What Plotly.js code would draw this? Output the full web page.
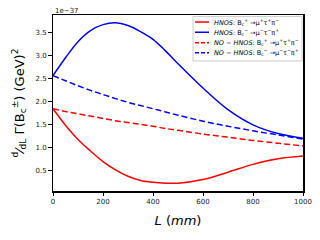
<!DOCTYPE html>
<html><head><meta charset="utf-8">
<script src="https://cdn.plot.ly/plotly-3.0.1.min.js"></script>
<style>html,body{margin:0;padding:0;background:#fff;}#chart{width:320px;height:240px;}</style>
</head><body><div id="chart"></div>
<script>
const L = [0, 50, 100, 150, 200, 250, 300, 350, 400, 450, 500, 600, 700, 800, 900, 1000];
const hnosPlus  = [1.84, 1.48, 1.17, 0.92, 0.69, 0.51, 0.37, 0.28, 0.24, 0.22, 0.22, 0.30, 0.46, 0.63, 0.75, 0.81];
const hnosMinus = [2.56, 2.95, 3.30, 3.54, 3.67, 3.71, 3.65, 3.52, 3.35, 3.10, 2.82, 2.29, 1.82, 1.49, 1.30, 1.20];
const noPlus    = [1.84, 1.78, 1.73, 1.68, 1.63, 1.58, 1.54, 1.50, 1.46, 1.41, 1.37, 1.29, 1.22, 1.15, 1.09, 1.03];
const noMinus   = [2.56, 2.45, 2.34, 2.24, 2.15, 2.06, 1.98, 1.91, 1.84, 1.77, 1.70, 1.57, 1.46, 1.36, 1.27, 1.18];
const names = [
  "<i>HNOS</i>: B<sub>c</sub><sup>+</sup> →μ<sup>+</sup>τ<sup>+</sup>π<sup>−</sup>",
  "<i>HNOS</i>: B<sub>c</sub><sup>−</sup> →μ<sup>−</sup>τ<sup>−</sup>π<sup>+</sup>",
  "<i>NO − HNOS</i>: B<sub>c</sub><sup>+</sup> →μ<sup>+</sup>τ<sup>+</sup>π<sup>−</sup>",
  "<i>NO − HNOS</i>: B<sub>c</sub><sup>−</sup> →μ<sup>−</sup>τ<sup>−</sup>π<sup>+</sup>"
];
const colors = ['#ff0000', '#0000ff', '#ff0000', '#0000ff'];
const dashes = ['solid', 'solid', '6px,3px', '6px,3px'];
const series = [hnosPlus, hnosMinus, noPlus, noMinus];
const yTicks = [0.5, 1.0, 1.5, 2.0, 2.5, 3.0, 3.5];
const yTickText = ["0.5", "1.0", "1.5", "2.0", "2.5", "3.0", "3.5"];
const xTicks = [0, 200, 400, 600, 800, 1000];

const data = series.map((y, i) => ({
  x: L, y: y, name: names[i], type: 'scatter', mode: 'lines', showlegend: false,
  line: {color: colors[i], width: 1.5, dash: dashes[i], shape: 'spline', smoothing: 1}
}));

// hand-built legend (paper coordinates)
const rowY = [0.960, 0.902, 0.843, 0.786];
const shapes = [{type: 'rect', xref: 'paper', yref: 'paper', x0: 0.56, x1: 0.996, y0: 0.739, y1: 0.991,
  line: {color: '#cccccc', width: 1}, fillcolor: 'rgba(255,255,255,0.85)', layer: 'above'}];
const annotations = [{text: '1e−37', xref: 'paper', yref: 'paper', x: 0, y: 1, xanchor: 'left',
  yanchor: 'bottom', showarrow: false, font: {size: 7, color: '#222'}, yshift: -2}];
names.forEach((n, i) => {
  shapes.push({type: 'line', xref: 'paper', yref: 'paper', x0: 0.568, x1: 0.624, y0: rowY[i], y1: rowY[i],
    line: {color: colors[i], width: 1.5, dash: i < 2 ? 'solid' : '4px,2px'}, layer: 'above'});
  annotations.push({text: n, xref: 'paper', yref: 'paper', x: 0.634, y: rowY[i], xanchor: 'left',
    yanchor: 'middle', showarrow: false, font: {size: 6.5, color: '#000'}});
});

const layout = {
  width: 320, height: 240,
  margin: {l: 53, r: 17, t: 15, b: 49, pad: 0},
  paper_bgcolor: '#fff', plot_bgcolor: '#fff',
  font: {family: 'DejaVu Sans', color: '#222', size: 7},
  showlegend: false,
  xaxis: {range: [0, 1000], tickvals: xTicks, ticks: 'outside', ticklen: 3.5, tickwidth: 1,
    tickcolor: '#000', showline: true, linecolor: '#000', linewidth: 1.5, mirror: true,
    showgrid: false, zeroline: false, tickfont: {size: 7},
    title: {text: '<i>L</i> (<i>mm</i>)', font: {size: 13, color: '#000'}, standoff: 10}},
  yaxis: {range: [0.05, 3.88], tickvals: yTicks, ticktext: yTickText, ticks: 'outside', ticklen: 3.5,
    tickwidth: 1, tickcolor: '#000', showline: true, linecolor: '#000', linewidth: 1.5, mirror: true,
    showgrid: false, zeroline: false, tickfont: {size: 7},
    title: {text: '<sup>d</sup>⁄<sub>dL</sub> Γ(B<sub>c</sub><sup>±</sup>) (GeV)<sup>2</sup>',
      font: {size: 13, color: '#000'}, standoff: 8}},
  shapes: shapes,
  annotations: annotations
};
Plotly.newPlot('chart', data, layout, {displayModeBar: false, staticPlot: true});
</script></body></html>
